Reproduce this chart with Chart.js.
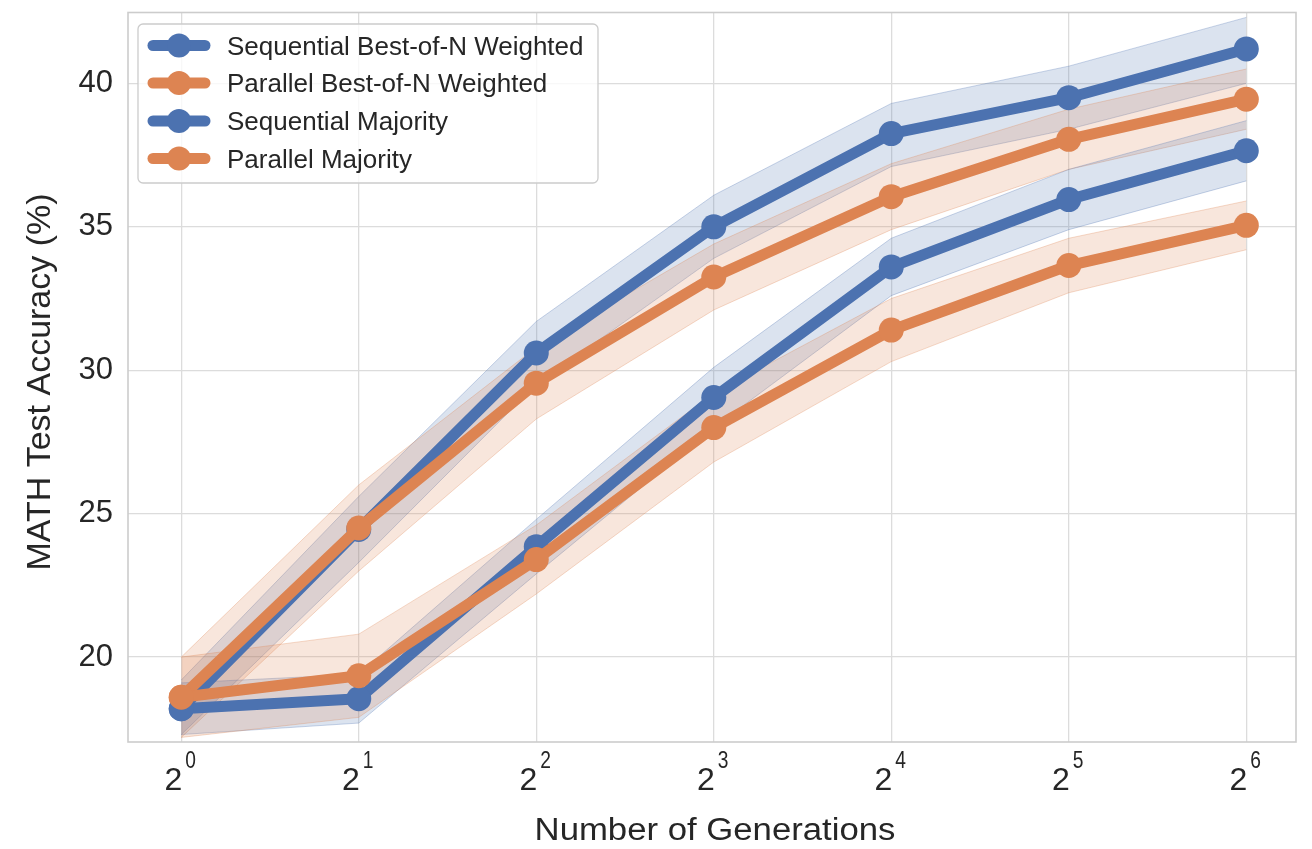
<!DOCTYPE html>
<html><head><meta charset="utf-8">
<script src="https://cdn.jsdelivr.net/npm/chart.js@4/dist/chart.umd.min.js"></script>
<style>html,body{margin:0;padding:0;background:#fff}#wrap{width:1312px;height:849px}</style>
</head><body><div id="wrap"><canvas id="c" width="1312" height="849"></canvas></div>
<script>
const xExponents = [0, 1, 2, 3, 4, 5, 6];
const yTicks = [20, 25, 30, 35, 40];
const seriesLabels = ["Sequential Best-of-N Weighted", "Parallel Best-of-N Weighted", "Sequential Majority", "Parallel Majority"];
const xTitle = "Number of Generations";
const yTitle = "MATH Test Accuracy (%)";

const seqBoN      = [18.2, 24.45, 30.6, 35.0, 38.25, 39.5, 41.2];
const seqBoNUpper = [19.2, 25.6, 31.7, 36.1, 39.3, 40.6, 42.3];
const seqBoNLower = [17.3, 23.3, 29.5, 33.9, 37.1, 38.4, 40.0];

const parBoN      = [18.6, 24.5, 29.55, 33.25, 36.05, 38.05, 39.45];
const parBoNUpper = [20.0, 26.0, 30.8, 34.4, 37.2, 39.1, 40.5];
const parBoNLower = [17.2, 23.0, 28.3, 32.1, 34.9, 37.0, 38.4];

const seqMaj      = [18.2, 18.55, 23.85, 29.05, 33.6, 35.95, 37.65];
const seqMajUpper = [19.1, 19.4, 24.8, 30.1, 34.6, 37.0, 38.7];
const seqMajLower = [17.3, 17.7, 22.9, 28.0, 32.6, 34.9, 36.6];

const parMaj      = [18.6, 19.35, 23.4, 28.0, 31.4, 33.65, 35.05];
const parMajUpper = [20.0, 20.8, 24.6, 29.2, 32.5, 34.6, 35.9];
const parMajLower = [17.2, 17.9, 22.2, 26.8, 30.3, 32.7, 34.2];

const BLUE = '#4C72B0', ORANGE = '#DD8452';
const BLUE_F = 'rgba(76,114,176,0.2)', ORANGE_F = 'rgba(221,132,82,0.2)';
const BLUE_E = 'rgba(76,114,176,0.3)', ORANGE_E = 'rgba(221,132,82,0.3)';
const TXT = '#262626';
const FONT = "'Liberation Sans', Arial, sans-serif";

const pts = arr => arr.map((v, i) => ({x: xExponents[i], y: v}));

function band(upper, lower, fillColor, edgeColor, idx, order) {
  return [
    {label: '_u', data: pts(upper), fill: idx + 1, backgroundColor: fillColor, borderColor: edgeColor, borderWidth: 1, pointRadius: 0, order: order, tension: 0},
    {label: '_l', data: pts(lower), fill: false, borderColor: edgeColor, borderWidth: 1, pointRadius: 0, order: order, tension: 0}
  ];
}
function line(label, data, color, order) {
  return {label: label, data: pts(data), borderColor: color, backgroundColor: color, borderWidth: 11, pointRadius: 12.5, pointHoverRadius: 12.5, pointBorderWidth: 0, pointBackgroundColor: color, fill: false, order: order, tension: 0, borderJoinStyle: 'round', borderCapStyle: 'round'};
}

const datasets = [];
datasets.push(...band(seqBoNUpper, seqBoNLower, BLUE_F, BLUE_E, 0, 20));
datasets.push(...band(parBoNUpper, parBoNLower, ORANGE_F, ORANGE_E, 2, 19));
datasets.push(...band(seqMajUpper, seqMajLower, BLUE_F, BLUE_E, 4, 18));
datasets.push(...band(parMajUpper, parMajLower, ORANGE_F, ORANGE_E, 6, 17));
datasets.push(line(seriesLabels[0], seqBoN, BLUE, 4));
datasets.push(line(seriesLabels[1], parBoN, ORANGE, 3));
datasets.push(line(seriesLabels[2], seqMaj, BLUE, 2));
datasets.push(line(seriesLabels[3], parMaj, ORANGE, 1));

const legendColors = [BLUE, ORANGE, BLUE, ORANGE];

function stretchedText(ctx, text, x, y, sx, align) {
  ctx.save();
  ctx.translate(x, y);
  ctx.scale(sx, 1);
  ctx.textAlign = align;
  ctx.fillText(text, 0, 0);
  ctx.restore();
}

const customDraw = {
  id: 'customDraw',
  beforeDatasetsDraw(chart) {
    const {ctx, chartArea: a} = chart;
    ctx.save();
    ctx.strokeStyle = '#cccccc';
    ctx.lineWidth = 1.6;
    ctx.strokeRect(a.left, a.top, a.right - a.left, a.bottom - a.top);
    ctx.restore();
  },
  afterDraw(chart) {
    const {ctx} = chart;
    const xs = chart.scales.x;
    const a = chart.chartArea;
    ctx.save();
    ctx.fillStyle = TXT;
    ctx.textBaseline = 'alphabetic';
    // x tick labels: 2^n
    xExponents.forEach(e => {
      const px = xs.getPixelForValue(e);
      ctx.font = `32px ${FONT}`;
      const w2 = ctx.measureText('2').width;
      ctx.textAlign = 'left';
      ctx.fillText('2', px - w2 + 1, a.bottom + 48);
      ctx.font = `24px ${FONT}`;
      stretchedText(ctx, String(e), px + 4, a.bottom + 26, 0.8, 'left');
    });
    // x title
    ctx.font = `31px ${FONT}`;
    stretchedText(ctx, xTitle, (a.left + a.right) / 2 + 3, 840, 1.12, 'center');
    // y title
    ctx.save();
    ctx.translate(50, 382);
    ctx.rotate(-Math.PI / 2);
    ctx.font = `34px ${FONT}`;
    ctx.textAlign = 'center';
    ctx.fillText(yTitle, 0, 0);
    ctx.restore();
    // legend
    const lx = 138, ly = 24, lw = 460, lh = 159;
    ctx.beginPath();
    ctx.roundRect(lx, ly, lw, lh, 5);
    ctx.fillStyle = 'rgba(255,255,255,0.8)';
    ctx.fill();
    ctx.strokeStyle = '#cccccc';
    ctx.lineWidth = 1.3;
    ctx.stroke();
    const rows = [45.5, 83, 121, 158.5];
    seriesLabels.forEach((lab, i) => {
      const y = rows[i];
      ctx.strokeStyle = legendColors[i];
      ctx.lineWidth = 11;
      ctx.lineCap = 'round';
      ctx.beginPath();
      ctx.moveTo(153, y);
      ctx.lineTo(205, y);
      ctx.stroke();
      ctx.fillStyle = legendColors[i];
      ctx.beginPath();
      ctx.arc(179, y, 12, 0, Math.PI * 2);
      ctx.fill();
      ctx.fillStyle = TXT;
      ctx.font = `25px ${FONT}`;
      ctx.textBaseline = 'alphabetic';
      stretchedText(ctx, lab, 227, y + 9, 1.04, 'left');
    });
    ctx.restore();
  }
};

new Chart(document.getElementById('c'), {
  type: 'line',
  data: {datasets},
  options: {
    responsive: false,
    animation: false,
    devicePixelRatio: 1,
    layout: {padding: {top: 12, right: 16, left: 0, bottom: 0}},
    plugins: {legend: {display: false}, tooltip: {enabled: false}},
    scales: {
      x: {
        type: 'linear', min: -0.3, max: 6.28,
        afterBuildTicks: s => { s.ticks = xExponents.map(v => ({value: v})); },
        afterFit: s => { s.height = 107; s.paddingLeft = 0; s.paddingRight = 0; },
        ticks: {display: false},
        grid: {color: '#dcdcdc', lineWidth: 1.3, drawTicks: false},
        border: {display: false},
        title: {display: false}
      },
      y: {
        type: 'linear', min: 17.04, max: 42.47,
        afterBuildTicks: s => { s.ticks = yTicks.map(v => ({value: v})); },
        afterFit: s => { s.width = 128; s.paddingTop = 0; s.paddingBottom = 0; },
        ticks: {color: TXT, font: {family: FONT, size: 31}, padding: 15},
        grid: {color: '#dcdcdc', lineWidth: 1.3, drawTicks: false},
        border: {display: false},
        title: {display: false}
      }
    }
  },
  plugins: [customDraw]
});
</script>
</body></html>
